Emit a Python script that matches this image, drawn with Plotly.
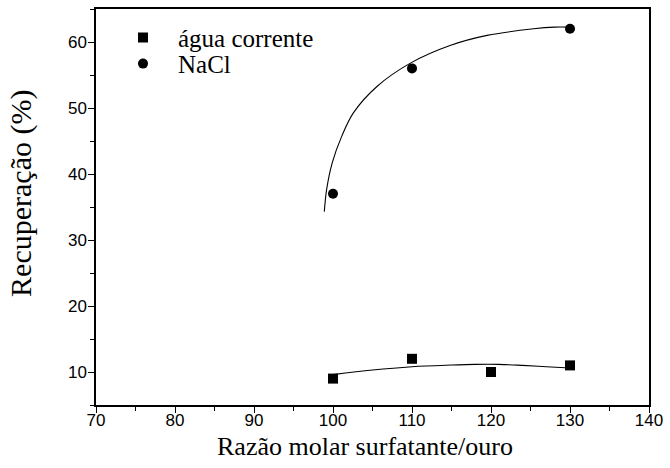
import plotly.graph_objects as go

# Measured data points
x_agua = [100, 110, 120, 130]
y_agua = [9, 12, 10, 11]
x_nacl = [100, 110, 130]
y_nacl = [37, 56, 62]

# Fitted curves
x_fit_agua = [100, 105, 110, 115, 118, 121, 124, 127, 130]
y_fit_agua = [9.6, 10.3, 10.8, 11.05, 11.15, 11.15, 11.0, 10.8, 10.6]
x_fit_nacl = [98.9, 99.2, 99.9, 101.1, 102.6, 105.6, 109.8, 114.9, 119.5, 125.4, 128.0, 130.0]
y_fit_nacl = [34.3, 37.7, 41.7, 45.7, 49.3, 53.3, 56.8, 59.5, 61.0, 62.0, 62.25, 62.25]

x_title = "Razão molar surfatante/ouro"
y_title = "Recuperação (%)"

SERIF = "Liberation Serif"
SANS = "Liberation Sans"

fig = go.Figure()
fig.add_trace(go.Scatter(x=x_fit_agua, y=y_fit_agua, mode="lines",
                         line=dict(color="black", width=1.1, shape="spline"),
                         showlegend=False, hoverinfo="skip"))
fig.add_trace(go.Scatter(x=x_fit_nacl, y=y_fit_nacl, mode="lines",
                         line=dict(color="black", width=1.1, shape="spline"),
                         showlegend=False, hoverinfo="skip"))
fig.add_trace(go.Scatter(x=x_agua, y=y_agua, mode="markers", name="água corrente",
                         marker=dict(symbol="square", size=10, color="black"),
                         legend="legend"))
fig.add_trace(go.Scatter(x=x_nacl, y=y_nacl, mode="markers", name="NaCl",
                         marker=dict(symbol="circle", size=10, color="black"),
                         legend="legend2"))

axis_common = dict(
    showgrid=False, zeroline=False, showline=True, linecolor="black", linewidth=1.5,
    mirror=True, ticks="outside", ticklen=6, tickwidth=1.2, tickcolor="black",
    tickfont=dict(family=SANS, size=17, color="black"),
)

fig.update_xaxes(range=[70, 140], dtick=10, tick0=70, ticklabelstandoff=-7,
                 minor=dict(dtick=5, ticks="outside", ticklen=4, tickcolor="black", tickwidth=1.2),
                 **axis_common)
fig.update_yaxes(range=[5, 65], dtick=10, tick0=0, ticklabelstandoff=-2,
                 minor=dict(dtick=5, ticks="outside", ticklen=4, tickcolor="black", tickwidth=1.2),
                 **axis_common)

leg_common = dict(xanchor="left", yanchor="middle", bgcolor="rgba(0,0,0,0)",
                  font=dict(family=SERIF, size=25, color="black"), itemwidth=60)

fig.update_layout(
    width=670, height=468,
    margin=dict(l=96, r=21, t=7, b=63),
    plot_bgcolor="white", paper_bgcolor="white",
    legend=dict(x=0.0217, y=0.9275, **leg_common),
    legend2=dict(x=0.0217, y=0.8615, **leg_common),
    annotations=[
        dict(text=x_title, xref="paper", yref="paper", x=0.487, y=-0.105,
             xanchor="center", yanchor="middle", showarrow=False,
             font=dict(family=SERIF, size=26, color="black")),
        dict(text=y_title, xref="paper", yref="paper", x=-0.136, y=0.535,
             xanchor="center", yanchor="middle", showarrow=False, textangle=-90,
             font=dict(family=SERIF, size=30, color="black")),
    ],
)

fig.write_html("out.html")
